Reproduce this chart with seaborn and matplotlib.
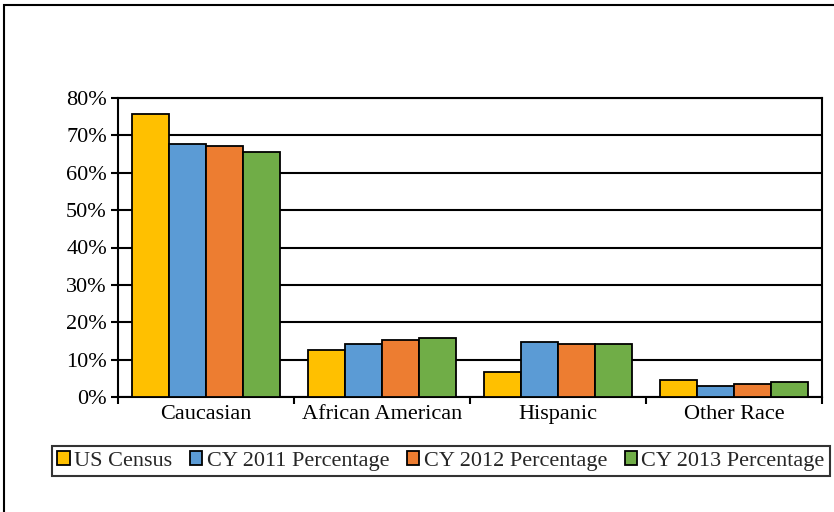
"""Race distribution: US Census vs calendar-year percentages."""

import matplotlib.pyplot as plt
import pandas as pd
import seaborn as sns
from matplotlib.patches import Rectangle
from matplotlib.ticker import FixedLocator, PercentFormatter

CATEGORIES = ["Caucasian", "African American", "Hispanic", "Other Race"]
SERIES = ["US Census", "CY 2011 Percentage", "CY 2012 Percentage", "CY 2013 Percentage"]
US_CENSUS = [75.6, 12.5, 6.8, 4.6]
CY_2011 = [67.8, 14.1, 14.6, 2.9]
CY_2012 = [67.2, 15.2, 14.1, 3.6]
CY_2013 = [65.6, 15.8, 14.1, 4.1]
COLORS = ["#FFC000", "#5B9BD5", "#ED7D31", "#70AD47"]
Y_TICKS = [0, 10, 20, 30, 40, 50, 60, 70, 80]


def build_frame() -> pd.DataFrame:
    rows = []
    for name, values in zip(SERIES, [US_CENSUS, CY_2011, CY_2012, CY_2013]):
        for cat, val in zip(CATEGORIES, values):
            rows.append({"category": cat, "series": name, "value": val})
    return pd.DataFrame(rows)


def main() -> None:
    sns.set_style("white")
    plt.rcParams["font.family"] = ["Liberation Serif", "DejaVu Serif"]

    df = build_frame()
    fig = plt.figure(figsize=(8.34, 5.12), dpi=100)
    ax = fig.add_axes([118 / 834, 1 - 397 / 512, (822 - 118) / 834, (397 - 98) / 512])

    sns.barplot(
        data=df,
        x="category",
        y="value",
        hue="series",
        order=CATEGORIES,
        hue_order=SERIES,
        palette=COLORS,
        width=0.84,
        edgecolor="black",
        linewidth=1.3,
        saturation=1,
        ax=ax,
        legend=True,
        zorder=3,
    )

    ax.set_ylim(0, 80)
    ax.set_xlim(-0.5, 3.5)
    ax.yaxis.set_major_locator(FixedLocator(Y_TICKS))
    ax.yaxis.set_major_formatter(PercentFormatter(decimals=0))
    ax.grid(axis="y", color="black", linewidth=1.5, zorder=0)
    ax.set_axisbelow(True)
    ax.set_xlabel("")
    ax.set_ylabel("")
    for spine in ax.spines.values():
        spine.set_color("black")
        spine.set_linewidth(1.5)

    ax.tick_params(axis="y", which="major", direction="out", length=5, width=1.5,
                   color="black", labelsize=16, labelcolor="black", pad=3, left=True)
    ax.tick_params(axis="x", which="major", length=0, labelsize=16, labelcolor="black", pad=6)
    ax.xaxis.set_minor_locator(FixedLocator([-0.5, 0.5, 1.5, 2.5, 3.5]))
    ax.tick_params(axis="x", which="minor", direction="out", length=5, width=1.5,
                   color="black", bottom=True)

    handles, labels = ax.get_legend_handles_labels()
    ax.legend(
        handles,
        labels,
        loc="center",
        bbox_to_anchor=(441 / 834, 1 - 461 / 512),
        bbox_transform=fig.transFigure,
        ncol=4,
        frameon=True,
        fancybox=False,
        edgecolor="black",
        fontsize=16,
        handlelength=0.55,
        handleheight=0.55,
        handletextpad=0.2,
        columnspacing=0.8,
        borderpad=0.25,
        borderaxespad=0,
    )
    leg = ax.get_legend()
    leg.get_frame().set_linewidth(1.5)

    fig.patches.append(
        Rectangle((4 / 834, -0.02), 1.0, 1 - 5 / 512 + 0.02, transform=fig.transFigure,
                  fill=False, edgecolor="black", linewidth=1.5)
    )

    fig.savefig("out.png", dpi=100, facecolor="white")
    plt.close(fig)


if __name__ == "__main__":
    main()
